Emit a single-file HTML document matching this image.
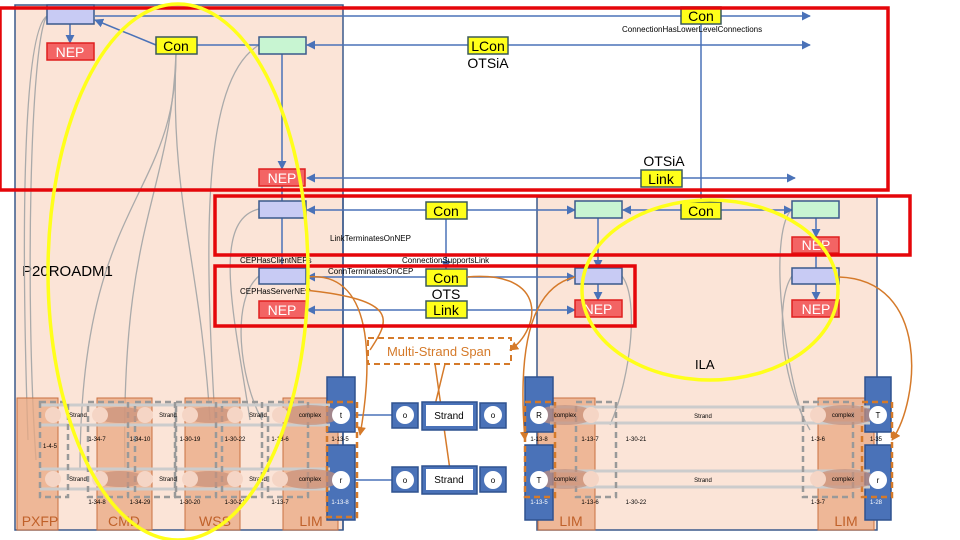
<!DOCTYPE html>
<html><head><meta charset="utf-8"><style>
body{margin:0;background:#fff}
svg{display:block;font-family:"Liberation Sans",sans-serif}
</style></head><body>
<svg width="960" height="540" viewBox="0 0 960 540" xmlns="http://www.w3.org/2000/svg">
<defs>
<marker id="a" viewBox="0 0 10 10" refX="9" refY="5" markerWidth="6" markerHeight="6" orient="auto"><path d="M0,0L10,5L0,10z" fill="#4a72b8"/></marker>
<marker id="o" viewBox="0 0 10 10" refX="9" refY="5" markerWidth="6" markerHeight="6" orient="auto"><path d="M0,0L10,5L0,10z" fill="#d57a2a"/></marker>
</defs>
<rect x="15" y="5" width="328" height="525" fill="#fbe4d7" stroke="#3b5a8c" stroke-width="1.5"/>
<rect x="537" y="197" width="340" height="333" fill="#fbe4d7" stroke="#3b5a8c" stroke-width="1.5"/>
<line x1="343" y1="197" x2="343" y2="530" stroke="#3b5a8c" stroke-width="1.5"/>
<text x="22" y="276" font-size="15">P20ROADM1</text>
<text x="695" y="369" font-size="13">ILA</text>
<g fill="none" stroke="#aaa" stroke-width="1.3">
<path d="M47,16 C25,30 20,200 28,440"/>
<path d="M47,16 C30,40 25,300 36,460"/>
<path d="M176,54 C176,200 80,200 80,470"/>
<path d="M176,54 C170,200 120,220 125,470"/>
<path d="M176,54 C170,200 200,260 210,420"/>
<path d="M259,45 C200,80 205,250 215,420"/>
<path d="M259,209 C210,220 235,320 250,420"/>
<path d="M259,276 C230,300 240,380 262,420"/>
<path d="M622,276 C640,300 630,380 610,425"/>
<path d="M792,209 C770,230 780,350 805,425"/>
<path d="M792,276 C775,300 780,380 810,430"/>
</g>
<g stroke="#4a72b8" stroke-width="1.5" fill="none">
<line x1="95" y1="16" x2="810" y2="16" marker-end="url(#a)"/>
<line x1="156" y1="45" x2="95" y2="20" marker-end="url(#a)"/>
<line x1="197" y1="45" x2="259" y2="45"/>
<line x1="468" y1="45" x2="307" y2="45" marker-end="url(#a)"/>
<line x1="508" y1="45" x2="810" y2="45" marker-end="url(#a)"/>
<line x1="70" y1="24" x2="70" y2="43" marker-end="url(#a)"/>
<line x1="282" y1="54" x2="282" y2="169" marker-end="url(#a)"/>
<line x1="701" y1="24" x2="701" y2="202"/>
<line x1="641" y1="178" x2="307" y2="178" marker-end="url(#a)"/>
<line x1="682" y1="178" x2="795" y2="178" marker-end="url(#a)"/>
<line x1="426" y1="210" x2="307" y2="210" marker-end="url(#a)"/>
<line x1="467" y1="210" x2="575" y2="210" marker-end="url(#a)"/>
<line x1="681" y1="210" x2="623" y2="210" marker-end="url(#a)"/>
<line x1="721" y1="210" x2="792" y2="210" marker-end="url(#a)"/>
<line x1="282" y1="186" x2="282" y2="268"/>
<line x1="446" y1="219" x2="446" y2="269" marker-end="url(#a)"/>
<line x1="598" y1="218" x2="598" y2="268" marker-end="url(#a)"/>
<line x1="816" y1="218" x2="816" y2="237" marker-end="url(#a)"/>
<line x1="816" y1="253" x2="816" y2="268"/>
<line x1="426" y1="277" x2="307" y2="277" marker-end="url(#a)"/>
<line x1="467" y1="277" x2="575" y2="277" marker-end="url(#a)"/>
<line x1="426" y1="310" x2="307" y2="310" marker-end="url(#a)"/>
<line x1="467" y1="310" x2="575" y2="310" marker-end="url(#a)"/>
<line x1="598" y1="284" x2="598" y2="300" marker-end="url(#a)"/>
<line x1="816" y1="284" x2="816" y2="300" marker-end="url(#a)"/>
<line x1="355" y1="415" x2="392" y2="415"/><line x1="355" y1="480" x2="392" y2="480"/>
</g>
<g stroke="#3b5a8c" stroke-width="1.5">
<rect x="47" y="5" width="47" height="19" fill="#c8cbf4"/>
<rect x="259" y="37" width="47" height="17" fill="#c8f5d2"/>
<rect x="259" y="201" width="47" height="17" fill="#c8cbf4"/>
<rect x="575" y="201" width="47" height="17" fill="#c8f5d2"/>
<rect x="792" y="201" width="47" height="17" fill="#c8f5d2"/>
<rect x="259" y="268" width="47" height="16" fill="#c8cbf4"/>
<rect x="575" y="268" width="47" height="16" fill="#c8cbf4"/>
<rect x="792" y="268" width="47" height="16" fill="#c8cbf4"/>
</g>
<g fill="#f36464" stroke="#e01e1e" stroke-width="1.5">
<rect x="47" y="43" width="47" height="17"/><rect x="259" y="169" width="46" height="17"/>
<rect x="792" y="237" width="47" height="16"/><rect x="259" y="301" width="47" height="17"/>
<rect x="575" y="300" width="47" height="17"/><rect x="792" y="300" width="47" height="17"/>
</g>
<g fill="#fff" font-size="14" text-anchor="middle">
<text x="70" y="57">NEP</text><text x="282" y="183">NEP</text><text x="816" y="250">NEP</text>
<text x="282" y="315">NEP</text><text x="598" y="314">NEP</text><text x="816" y="314">NEP</text>
</g>
<g fill="#ffff1a" stroke="#3b5a5a" stroke-width="1.5">
<rect x="156" y="37" width="41" height="17"/><rect x="468" y="37" width="40" height="17"/>
<rect x="681" y="7" width="40" height="17"/><rect x="641" y="170" width="41" height="17"/>
<rect x="426" y="202" width="41" height="17"/><rect x="681" y="202" width="40" height="17"/>
<rect x="426" y="269" width="41" height="17"/><rect x="426" y="301" width="41" height="17"/>
</g>
<g font-size="14" text-anchor="middle" fill="#000">
<text x="176" y="51">Con</text><text x="488" y="51">LCon</text><text x="488" y="68">OTSiA</text>
<text x="701" y="21">Con</text><text x="664" y="166">OTSiA</text><text x="661" y="184">Link</text>
<text x="446" y="216">Con</text><text x="701" y="216">Con</text>
<text x="446" y="283">Con</text><text x="446" y="299">OTS</text><text x="446" y="315">Link</text>
</g>
<g font-size="8" fill="#000">
<text x="622" y="32">ConnectionHasLowerLevelConnections</text>
<text x="330" y="241">LinkTerminatesOnNEP</text>
<text x="240" y="263">CEPHasClientNEPs</text>
<text x="402" y="263">ConnectionSupportsLink</text>
<text x="328" y="274">ConnTerminatesOnCEP</text>
<text x="240" y="294">CEPHasServerNEP</text>
</g>
<rect x="368" y="338" width="143" height="26" fill="#fff" stroke="#d57a2a" stroke-width="2" stroke-dasharray="6,4"/>
<text x="439" y="356" font-size="13" fill="#d57a2a" text-anchor="middle">Multi-Strand Span</text>
<g fill="none" stroke="#d57a2a" stroke-width="1.5">
<path d="M307,277 C380,270 370,380 360,435" marker-end="url(#o)"/>
<path d="M467,277 C550,270 540,330 510,350" marker-end="url(#o)"/>
<path d="M575,277 C520,290 520,380 525,440" marker-end="url(#o)"/>
<path d="M839,277 C930,280 920,400 892,440" marker-end="url(#o)"/>
<path d="M305,290 C400,300 390,320 370,350"/>
<line x1="435" y1="364" x2="450" y2="470"/><line x1="445" y1="364" x2="435" y2="405"/>
</g>
<g fill="#e9a882" fill-opacity="0.75" stroke="#c87040" stroke-width="1">
<rect x="17" y="398" width="41" height="132"/><rect x="97" y="398" width="55" height="132"/>
<rect x="185" y="398" width="55" height="132"/><rect x="283" y="398" width="55" height="132"/>
<rect x="538" y="398" width="57" height="132"/><rect x="818" y="398" width="56" height="132"/>
</g>
<g fill="#4a72b8" stroke="#2f528f" stroke-width="1.5">
<rect x="327" y="377" width="28" height="55"/><rect x="327" y="445" width="28" height="75"/>
<rect x="525" y="377" width="28" height="55"/><rect x="525" y="445" width="28" height="75"/>
<rect x="865" y="377" width="26" height="55"/><rect x="865" y="445" width="26" height="75"/>
<rect x="392" y="403" width="26" height="25"/><rect x="480" y="403" width="26" height="25"/>
<rect x="392" y="467" width="26" height="25"/><rect x="480" y="467" width="26" height="25"/>
<rect x="422" y="402" width="55" height="28"/><rect x="422" y="466" width="55" height="28"/>
</g>
<g fill="#fff"><rect x="426" y="405" width="47" height="21"/><rect x="426" y="469" width="47" height="21"/></g>
<g font-size="10" text-anchor="middle"><text x="449" y="419">Strand</text><text x="449" y="483">Strand</text></g>
<g stroke="#ccc" stroke-width="3" fill="none">
<line x1="40" y1="405" x2="330" y2="405"/><line x1="40" y1="425" x2="330" y2="425"/>
<line x1="40" y1="469" x2="330" y2="469"/><line x1="40" y1="489" x2="330" y2="489"/>
<line x1="550" y1="407" x2="870" y2="407"/><line x1="550" y1="423" x2="870" y2="423"/>
<line x1="550" y1="471" x2="870" y2="471"/><line x1="550" y1="487" x2="870" y2="487"/>
</g>
<g fill="none" stroke="#999" stroke-width="2.5" stroke-dasharray="6,4">
<rect x="40" y="402" width="28" height="95"/><rect x="88" y="402" width="40" height="95"/>
<rect x="135" y="402" width="40" height="95"/><rect x="176" y="402" width="40" height="95"/>
<rect x="222" y="402" width="40" height="95"/><rect x="268" y="402" width="40" height="95"/>
<rect x="576" y="402" width="40" height="95"/><rect x="803" y="402" width="50" height="95"/>
</g>
<g fill="none" stroke="#d57a2a" stroke-width="2.5" stroke-dasharray="6,4">
<rect x="327" y="402" width="30" height="115"/><rect x="525" y="402" width="30" height="95"/><rect x="862" y="402" width="30" height="95"/>
</g>
<g fill="#c8907a" fill-opacity="0.7">
<ellipse cx="310" cy="415" rx="30" ry="10"/><ellipse cx="310" cy="479" rx="30" ry="10"/>
<ellipse cx="565" cy="415" rx="30" ry="10"/><ellipse cx="565" cy="479" rx="30" ry="10"/>
<ellipse cx="845" cy="415" rx="30" ry="10"/><ellipse cx="845" cy="479" rx="30" ry="10"/>
<ellipse cx="120" cy="415" rx="25" ry="8"/><ellipse cx="210" cy="415" rx="25" ry="8"/>
<ellipse cx="120" cy="479" rx="25" ry="8"/><ellipse cx="210" cy="479" rx="25" ry="8"/>
</g>
<g fill="#fff">
<circle cx="341" cy="415" r="9"/><circle cx="341" cy="480" r="9"/>
<circle cx="405" cy="415" r="9"/><circle cx="405" cy="480" r="9"/>
<circle cx="493" cy="415" r="9"/><circle cx="493" cy="480" r="9"/>
<circle cx="539" cy="415" r="9"/><circle cx="539" cy="480" r="9"/>
<circle cx="878" cy="415" r="9"/><circle cx="878" cy="480" r="9"/>
</g>
<g fill="#f5d5c5"><circle cx="53" cy="415" r="8"/><circle cx="53" cy="479" r="8"/>
<circle cx="100" cy="415" r="8"/><circle cx="145" cy="415" r="8"/><circle cx="190" cy="415" r="8"/><circle cx="235" cy="415" r="8"/><circle cx="280" cy="415" r="8"/>
<circle cx="100" cy="479" r="8"/><circle cx="145" cy="479" r="8"/><circle cx="190" cy="479" r="8"/><circle cx="235" cy="479" r="8"/><circle cx="280" cy="479" r="8"/>
<circle cx="591" cy="415" r="8"/><circle cx="591" cy="479" r="8"/><circle cx="818" cy="415" r="8"/><circle cx="818" cy="479" r="8"/></g>
<g font-size="8" text-anchor="middle">
<text x="341" y="418">t</text><text x="341" y="483">r</text><text x="405" y="418">o</text><text x="405" y="483">o</text>
<text x="493" y="418">o</text><text x="493" y="483">o</text><text x="539" y="418">R</text><text x="539" y="483">T</text>
<text x="878" y="418">T</text><text x="878" y="483">r</text>
<text x="78" y="417" font-size="6">Strand</text><text x="168" y="417" font-size="6">Strand</text><text x="258" y="417" font-size="6">Strand</text>
<text x="78" y="481" font-size="6">Strand</text><text x="168" y="481" font-size="6">Strand</text><text x="258" y="481" font-size="6">Strand</text>
<text x="310" y="417" font-size="6">complex</text><text x="310" y="481" font-size="6">complex</text>
<text x="565" y="417" font-size="6">complex</text><text x="565" y="481" font-size="6">complex</text>
<text x="843" y="417" font-size="6">complex</text><text x="843" y="481" font-size="6">complex</text>
<text x="703" y="418" font-size="6">Strand</text><text x="703" y="482" font-size="6">Strand</text>
</g>
<g font-size="6" text-anchor="middle">
<text x="50" y="448">1-4-5</text><text x="97" y="441">1-34-7</text><text x="140" y="441">1-34-10</text><text x="190" y="441">1-30-19</text><text x="235" y="441">1-30-22</text><text x="280" y="441">1-13-6</text><text x="340" y="441">1-13-5</text>
<text x="97" y="504">1-34-8</text><text x="140" y="504">1-34-29</text><text x="190" y="504">1-30-20</text><text x="235" y="504">1-30-21</text><text x="280" y="504">1-13-7</text><text x="340" y="504" fill="#fff">1-13-8</text>
<text x="539" y="441">1-13-8</text><text x="590" y="441">1-13-7</text><text x="636" y="441">1-30-21</text><text x="818" y="441">1-3-6</text><text x="876" y="441">1-35</text>
<text x="539" y="504" fill="#fff">1-13-5</text><text x="590" y="504">1-13-6</text><text x="636" y="504">1-30-22</text><text x="818" y="504">1-3-7</text><text x="876" y="504" fill="#fff">1-28</text>
</g>
<g font-size="14" fill="#c0612a" text-anchor="middle">
<text x="40" y="526">PXFP</text><text x="124" y="526">CMD</text><text x="215" y="526">WSS</text><text x="311" y="526">LIM</text>
<text x="571" y="526">LIM</text><text x="846" y="526">LIM</text>
</g>
<g fill="none" stroke="#e5060a" stroke-width="3.5">
<rect x="0" y="8" width="888" height="182"/>
<rect x="215" y="196" width="695" height="59"/>
<rect x="215" y="266" width="420" height="60"/>
</g>
<g fill="none" stroke="#ffff1a" stroke-width="3.5">
<ellipse cx="178" cy="272" rx="130" ry="268"/>
<ellipse cx="710" cy="290" rx="128" ry="90"/>
</g>
</svg>
</body></html>
